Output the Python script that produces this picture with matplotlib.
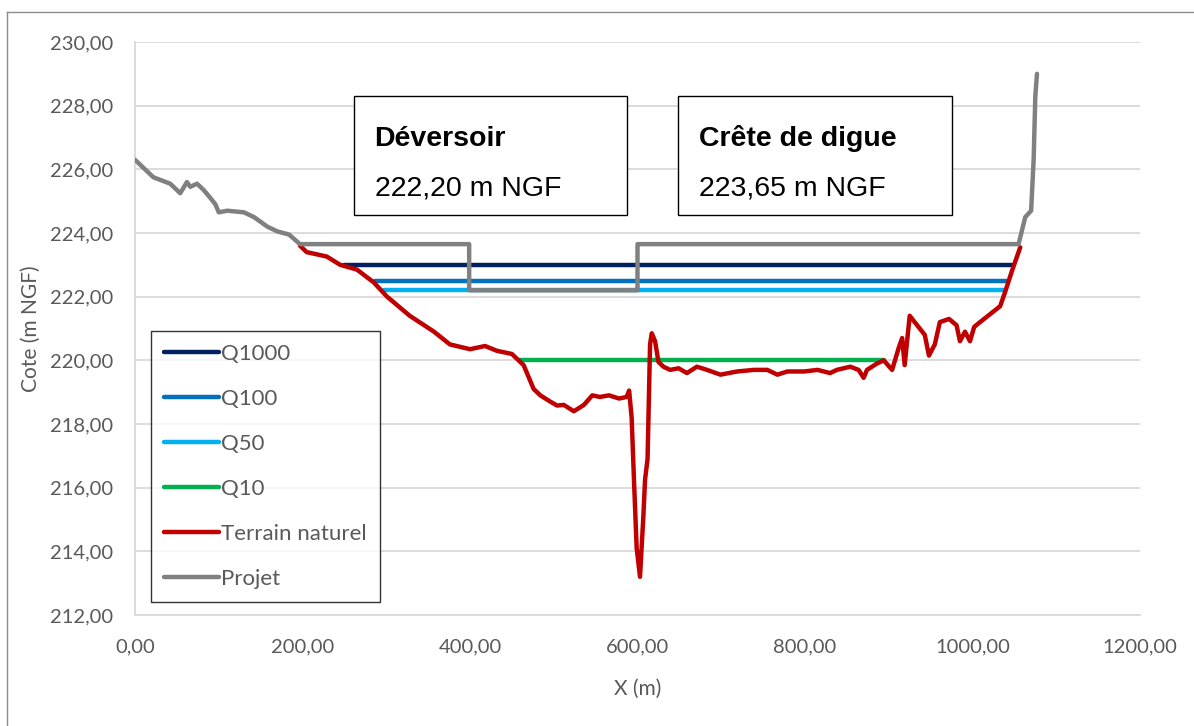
import matplotlib
matplotlib.use("Agg")
import matplotlib.pyplot as plt
from matplotlib.patches import Rectangle
from matplotlib.lines import Line2D
from matplotlib.ticker import FuncFormatter

# ---------------- data ----------------
# Projet (grey): natural ground upstream + dike / spillway crest + right bank
x_projet = [0, 8, 22, 32, 42, 54, 62, 66, 74, 82, 90, 96, 100, 110, 130, 142, 158, 170, 184, 197,
            399, 399, 600, 600, 1055, 1063, 1070, 1073, 1075, 1077]
y_projet = [226.3, 226.1, 225.75, 225.65, 225.55, 225.25, 225.6, 225.45, 225.55, 225.35, 225.1, 224.9,
            224.65, 224.7, 224.65, 224.5, 224.2, 224.05, 223.95, 223.65,
            223.65, 222.2, 222.2, 223.65, 223.65, 224.5, 224.7, 226.3, 228.3, 229.0]

# Terrain naturel (red)
x_terrain = [197, 205, 229, 245, 265, 285, 301, 328, 357, 376, 400, 418, 432, 450, 464, 476, 484,
             496, 504, 512, 524, 536, 546, 555, 566, 578, 587, 590, 593, 596, 599, 603, 607, 609,
             612, 615, 617, 621, 625, 631, 639, 649, 659, 671, 683, 699, 719, 739, 755, 767, 779,
             799, 815, 830, 838, 854, 864, 870, 874, 886, 894, 904, 912, 916, 919, 925, 934, 943,
             948, 955, 961, 972, 981, 985, 991, 997, 1002, 1009, 1021, 1033, 1039, 1047, 1057]
y_terrain = [223.6, 223.4, 223.26, 223.0, 222.85, 222.45, 222.0, 221.4, 220.9, 220.5, 220.35, 220.45,
             220.3, 220.2, 219.85, 219.1, 218.9, 218.7, 218.58, 218.6, 218.4, 218.6, 218.9, 218.85,
             218.9, 218.8, 218.85, 219.05, 218.2, 216.1, 214.1, 213.2, 215.1, 216.25, 216.9, 220.5,
             220.85, 220.6, 219.95, 219.8, 219.7, 219.75, 219.6, 219.8, 219.7, 219.55, 219.65, 219.7,
             219.7, 219.55, 219.65, 219.65, 219.7, 219.6, 219.7, 219.8, 219.7, 219.45, 219.7, 219.9,
             220.0, 219.7, 220.4, 220.7, 219.85, 221.4, 221.1, 220.8, 220.15, 220.5, 221.2, 221.3,
             221.1, 220.6, 220.9, 220.6, 221.05, 221.2, 221.45, 221.7, 222.15, 222.8, 223.55]

# Water levels: name, level, x start, x end
q_names = ["Q1000", "Q100", "Q50", "Q10"]
q_levels = [223.0, 222.5, 222.2, 220.0]
q_xstart = [250, 287, 297, 460]
q_xend = [1047, 1041, 1038, 894]

x_ticks = [0, 200, 400, 600, 800, 1000, 1200]
y_ticks = [212, 214, 216, 218, 220, 222, 224, 226, 228, 230]

boxes = [("Déversoir", "222,20 m NGF"), ("Crête de digue", "223,65 m NGF")]
box_x = [261, 648]

# ---------------- style ----------------
q_colors = ["#002060", "#0070C0", "#00B0F0", "#00B050"]
c_terrain = "#C00000"
c_projet = "#808080"
txt_gray = "#595959"
lab_font = ["Lato", "DejaVu Sans"]
box_font = ["Liberation Sans", "DejaVu Sans"]

W, H = 1194, 726
fig = plt.figure(figsize=(W / 100, H / 100), dpi=100)
ax = fig.add_axes([135 / W, 1 - 615 / H, (1140 - 135) / W, (615 - 42) / H])

lw = 3.2
for name, lev, xs, xe, c in zip(q_names, q_levels, q_xstart, q_xend, q_colors):
    ax.plot([xs, xe], [lev, lev], color=c, lw=lw, solid_capstyle="round", label=name, zorder=3)
ax.plot(x_terrain, y_terrain, color=c_terrain, lw=lw, solid_capstyle="round",
        solid_joinstyle="round", label="Terrain naturel", zorder=4)
ax.plot(x_projet, y_projet, color=c_projet, lw=lw, solid_capstyle="round",
        solid_joinstyle="round", label="Projet", zorder=5)

ax.set_xlim(0, 1200)
ax.set_ylim(212, 230)
ax.set_xticks(x_ticks)
ax.set_yticks(y_ticks)
fmt = FuncFormatter(lambda v, p: f"{v:.2f}".replace(".", ","))
ax.xaxis.set_major_formatter(fmt)
ax.yaxis.set_major_formatter(fmt)
ax.grid(axis="y", color="#D9D9D9", lw=1.3)
ax.set_axisbelow(True)
for s in ["top", "right"]:
    ax.spines[s].set_visible(False)
for s in ["left", "bottom"]:
    ax.spines[s].set_color("#D9D9D9")
    ax.spines[s].set_linewidth(1.3)
ax.tick_params(length=0, labelsize=14.5, labelcolor=txt_gray)
ax.tick_params(axis="y", pad=15.5)
ax.tick_params(axis="x", pad=16.5)
for t in ax.get_xticklabels() + ax.get_yticklabels():
    t.set_family(lab_font)
ax.set_xlabel("X (m)", fontsize=15, color=txt_gray, family=lab_font, labelpad=17)
ax.set_ylabel("Cote (m NGF)", fontsize=15, color=txt_gray, family=lab_font, labelpad=7)

# annotation boxes
for (title, val), bx in zip(boxes, box_x):
    ax.add_patch(Rectangle((bx, 224.57), 327, 3.72, facecolor="white", edgecolor="black",
                           lw=1.0, zorder=6))
    ax.text(bx + 25, 226.96, title, fontsize=20.5, fontweight="bold", family=box_font,
            va="center", ha="left", zorder=7)
    ax.text(bx + 25, 225.4, val, fontsize=20.5, family=box_font, va="center", ha="left", zorder=7)

leg = ax.legend(loc="lower left", bbox_to_anchor=(16 / 1005, 13 / 573), borderaxespad=0,
                frameon=True, fancybox=False, fontsize=16.0, handlelength=2.45,
                handletextpad=0.1, labelspacing=1.12, borderpad=0.6)
leg.get_frame().set_edgecolor("black")
leg.get_frame().set_linewidth(1.0)
leg.set_zorder(8)
for t in leg.get_texts():
    t.set_color(txt_gray)
    t.set_family(lab_font)

# chart outer border (left and top edges visible)
fig.add_artist(Line2D([7 / W, 7 / W], [0, 1 - 12 / H], transform=fig.transFigure,
                      color="#8C8C8C", lw=1))
fig.add_artist(Line2D([7 / W, 1], [1 - 12 / H, 1 - 12 / H], transform=fig.transFigure,
                      color="#8C8C8C", lw=1))

fig.savefig("out.png", dpi=100)
